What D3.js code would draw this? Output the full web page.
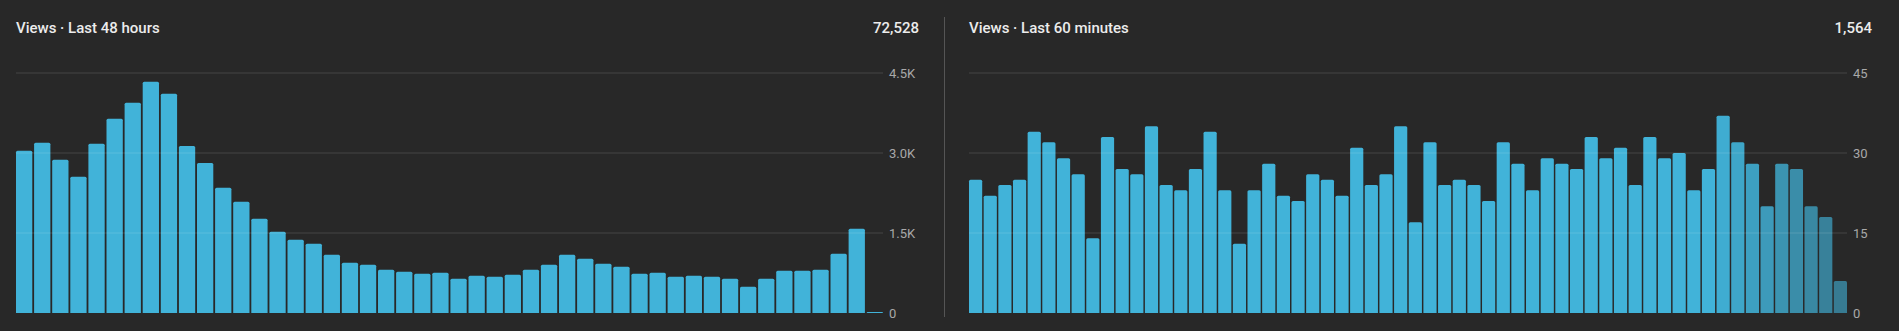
<!DOCTYPE html>
<html>
<head>
<meta charset="utf-8">
<script src="https://cdn.jsdelivr.net/npm/d3@7"></script>
<style>
  html, body { margin: 0; padding: 0; background: #282828; }
  svg { display: block; font-family: Roboto, "Noto Sans", sans-serif; }
</style>
</head>
<body>
<svg id="chart"></svg>
<script>
// Views per hour, last 48 hours (last hour just started)
const hourlyViews = [
  3044, 3194, 2875, 2556, 3175, 3644, 3943, 4337, 4112, 3131,
  2813, 2350, 2087, 1769, 1525, 1375, 1300, 1094, 944, 906,
  812, 775, 737, 756, 644, 700, 681, 719, 812, 906,
  1094, 1019, 925, 869, 737, 756, 681, 700, 681, 644,
  494, 644, 794, 794, 812, 1112, 1581, 12
];
const hourlyTicks = [0, 1500, 3000, 4500];
const hourlyTickLabels = ["0", "1.5K", "3.0K", "4.5K"];

// Views per minute, last 60 minutes
const minuteViews = [
  25, 22, 24, 25, 34, 32, 29, 26, 14, 33,
  27, 26, 35, 24, 23, 27, 34, 23, 13, 23,
  28, 22, 21, 26, 25, 22, 31, 24, 26, 35,
  17, 32, 24, 25, 24, 21, 32, 28, 23, 29,
  28, 27, 33, 29, 31, 24, 33, 29, 30, 23,
  27, 37, 32, 28, 20, 28, 27, 20, 18, 6
];
const minuteTicks = [0, 15, 30, 45];
const minuteTickLabels = ["0", "15", "30", "45"];

const panelTitles = ["Views · Last 48 hours", "Views · Last 60 minutes"];
const panelTotals = ["72,528", "1,564"];

const width = 1899;
const height = 331;
const barColor = "#41b3d9";

const svg = d3.select("#chart").attr("width", width).attr("height", height);

// Bar with rounded top corners
function barPath(x, y, w, h, r) {
  r = Math.min(r, h, w / 2);
  if (h <= 0) return "";
  return `M${x},${y + h}V${y + r}Q${x},${y} ${x + r},${y}H${x + w - r}Q${x + w},${y} ${x + w},${y + r}V${y + h}Z`;
}

function drawPanel(opts) {
  const g = svg.append("g");

  const x = d3.scaleBand()
    .domain(d3.range(opts.values.length))
    .range([opts.left, opts.right])
    .paddingInner(0.1)
    .paddingOuter(0);

  const y = d3.scaleLinear()
    .domain([0, d3.max(opts.ticks)])
    .range([313, 73]);

  // title and total
  g.append("text")
    .attr("x", opts.left)
    .attr("y", 33)
    .attr("fill", "#ececec")
    .attr("font-size", 15)
    .attr("font-weight", 500)
    .text(opts.title);

  g.append("text")
    .attr("x", opts.totalX)
    .attr("y", 33)
    .attr("text-anchor", "end")
    .attr("fill", "#ececec")
    .attr("font-size", 15)
    .attr("font-weight", 500)
    .text(opts.total);

  // bars
  g.selectAll(".bar")
    .data(opts.values)
    .join("path")
    .attr("class", "bar")
    .attr("fill", barColor)
    .attr("fill-opacity", (d, i) => opts.fade ? opts.fade(i) : 1)
    .attr("d", (d, i) => {
      const h = Math.max(1, y(0) - y(d));
      return barPath(x(i), y(0) - h, x.bandwidth(), h, 1.5);
    });

  // gridlines (drawn over bars, faint)
  g.selectAll(".grid")
    .data(opts.ticks.slice(1))
    .join("line")
    .attr("class", "grid")
    .attr("x1", opts.left)
    .attr("x2", opts.right)
    .attr("y1", (d) => y(d))
    .attr("y2", (d) => y(d))
    .attr("stroke", "#ffffff")
    .attr("stroke-opacity", 0.09)
    .attr("stroke-width", 1.5);

  // tick labels
  g.selectAll(".tick")
    .data(opts.ticks)
    .join("text")
    .attr("class", "tick")
    .attr("x", opts.right + 6)
    .attr("y", (d) => y(d))
    .attr("dy", "0.35em")
    .attr("fill", "#a8a8a8")
    .attr("font-size", 13)
    .text((d, i) => opts.tickLabels[i]);
}

drawPanel({
  values: hourlyViews,
  ticks: hourlyTicks,
  tickLabels: hourlyTickLabels,
  title: panelTitles[0],
  total: panelTotals[0],
  left: 16,
  right: 883,
  totalX: 919,
});

// the most recent minutes fade out
const fadeScale = d3.scaleLinear().domain([50, 59]).range([1, 0.6]).clamp(true);

drawPanel({
  values: minuteViews,
  ticks: minuteTicks,
  tickLabels: minuteTickLabels,
  title: panelTitles[1],
  total: panelTotals[1],
  left: 969,
  right: 1847,
  totalX: 1872,
  fade: fadeScale,
});

// divider between the two panels
svg.append("line")
  .attr("x1", 944.5)
  .attr("x2", 944.5)
  .attr("y1", 17)
  .attr("y2", 317)
  .attr("stroke", "#555")
  .attr("stroke-width", 1);
</script>
</body>
</html>
